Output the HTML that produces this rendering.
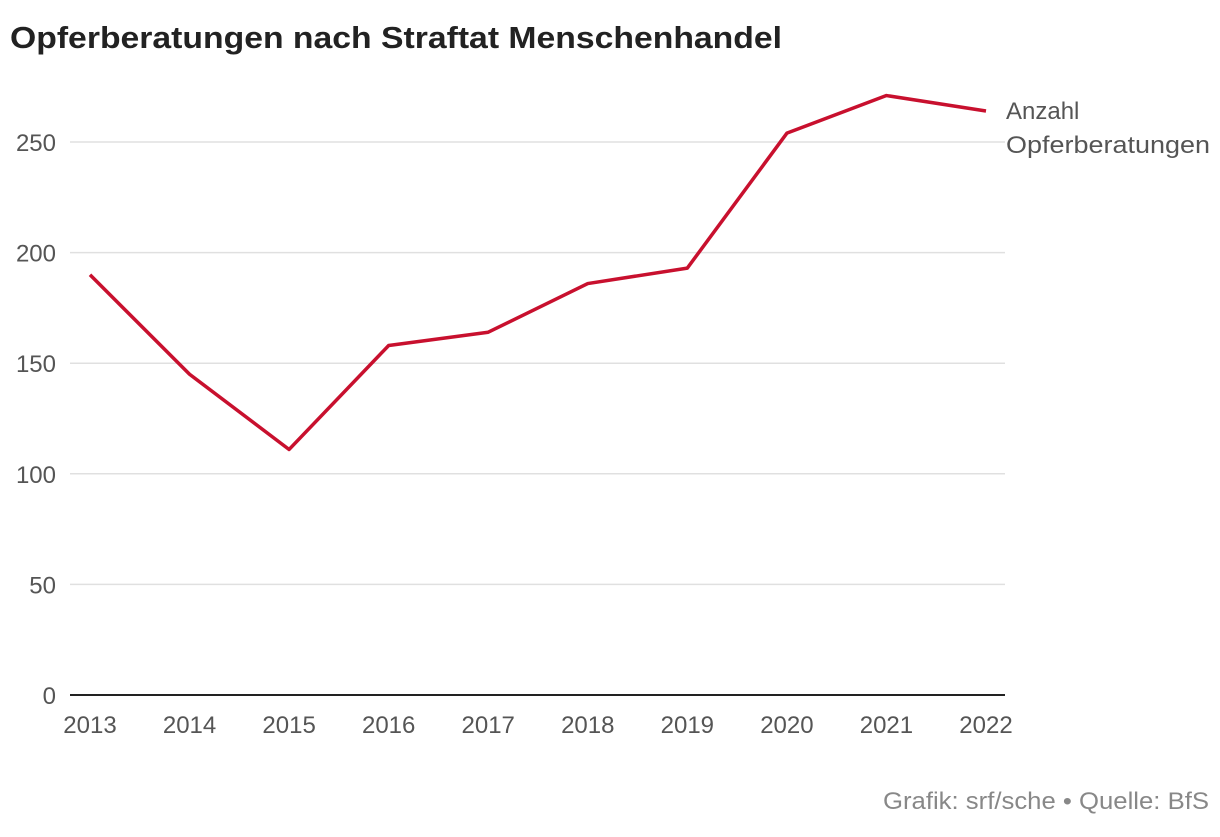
<!DOCTYPE html>
<html><head><meta charset="utf-8"><style>
body{margin:0;background:#fff;width:1220px;height:832px;overflow:hidden;font-family:"Liberation Sans",sans-serif}
</style></head><body>
<svg id="chart" width="1220" height="832" xmlns="http://www.w3.org/2000/svg">
<text x="10" y="48" font-size="31" font-weight="bold" fill="#222" font-family="Liberation Sans, sans-serif" textLength="772" lengthAdjust="spacingAndGlyphs">Opferberatungen nach Straftat Menschenhandel</text>
<g id="grid"></g>
<g id="yt"></g>
<g id="xt"></g>
<path id="line" fill="none" stroke="#c8102e" stroke-width="3.5" stroke-linejoin="round"/>
<text x="1006" y="119" font-size="24" fill="#555">Anzahl</text>
<text x="1006" y="153" font-size="24" fill="#555" textLength="204" lengthAdjust="spacingAndGlyphs">Opferberatungen</text>
<text x="883" y="809" font-size="24" fill="#888" textLength="326" lengthAdjust="spacingAndGlyphs">Grafik: srf/sche • Quelle: BfS</text>
</svg>
<script>
const years=["2013","2014","2015","2016","2017","2018","2019","2020","2021","2022"];
const values=[190,145,111,158,164,186,193,254,271,264];
const yTicks=[0,50,100,150,200,250];
const NS="http://www.w3.org/2000/svg";
const x=i=>90+i*(986-90)/(years.length-1);
const y=v=>695-v*(695-142)/250;
const grid=document.getElementById('grid'),yt=document.getElementById('yt'),xt=document.getElementById('xt');
yTicks.forEach(t=>{
 const l=document.createElementNS(NS,'line');
 
 
 l.setAttribute('x1',70);l.setAttribute('x2',1005);l.setAttribute('y1',y(t));l.setAttribute('y2',y(t));
 l.setAttribute('stroke',t===0?'#222':'#e0e0e0');l.setAttribute('stroke-width',t===0?2:1.5);
 grid.appendChild(l);
 const tx=document.createElementNS(NS,'text');
 
 
 tx.setAttribute('x',56);tx.setAttribute('y',y(t)+9);tx.setAttribute('text-anchor','end');
 tx.setAttribute('font-size','24');tx.setAttribute('fill','#555');tx.textContent=t;
 yt.appendChild(tx);
});
years.forEach((yr,i)=>{
 const tx=document.createElementNS(NS,'text');
 
 
 tx.setAttribute('x',x(i));tx.setAttribute('y',733);tx.setAttribute('text-anchor','middle');
 tx.setAttribute('font-size','24');tx.setAttribute('fill','#555');tx.textContent=yr;
 xt.appendChild(tx);
});
document.getElementById('line').setAttribute('d',values.map((v,i)=>(i?'L':'M')+x(i)+','+y(v)).join(''));
</script>
</body></html>
